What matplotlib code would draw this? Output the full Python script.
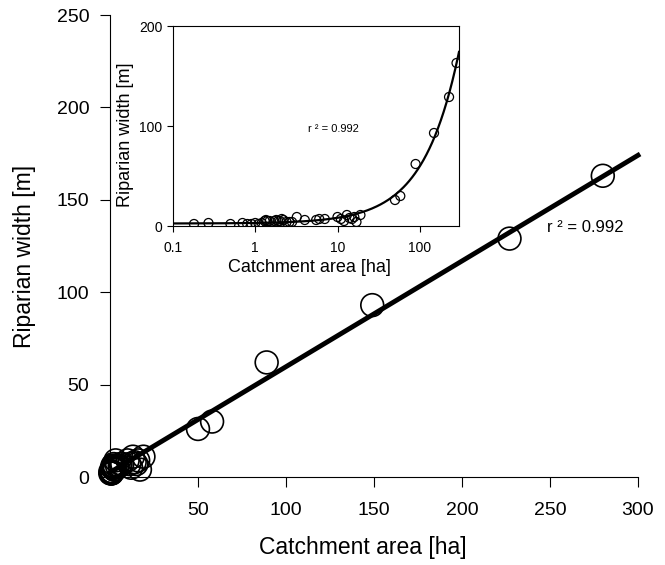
import numpy as np
import matplotlib.pyplot as plt

plt.rcParams['font.family'] = ['Liberation Sans', 'DejaVu Sans']

# catchment area [ha] and riparian width [m]
area = [0.18, 0.27, 0.5, 0.7, 0.8, 0.9, 1.0, 1.1, 1.2, 1.3, 1.35, 1.4, 1.5,
        1.7, 1.8, 1.9, 2.0, 2.1, 2.2, 2.4, 2.6, 2.8, 3.2, 4.0, 5.5, 6.0,
        7.0, 10.0, 11.0, 12.0, 13.0, 14.0, 15.0, 16.0, 17.0, 19.0,
        50.0, 58.0, 89.0, 149.0, 227.0, 280.0]
width = [2, 3, 2, 3, 2, 2, 3, 2, 3, 5, 6, 5, 5,
         5, 6, 5, 5, 7, 6, 4, 4, 4, 9, 6, 6, 7,
         7, 9, 7, 5, 11, 8, 7, 9, 4, 11,
         26, 30, 62, 93, 129, 163]
r2_label = "r ² = 0.992"

area = np.array(area)
width = np.array(width)
b, a = np.polyfit(area, width, 1)

fig = plt.figure(figsize=(6.65, 5.65), dpi=100)
ax = fig.add_axes([110 / 665, 88 / 565, 528 / 665, 462 / 565])

ax.scatter(area, width, s=270, facecolors='none', edgecolors='black',
           linewidths=1.2, zorder=3, clip_on=False)
xs = np.linspace(0, 300, 200)
ax.plot(xs, a + b * xs, color='black', lw=3.5, zorder=2, clip_on=False)
ax.set_xlim(0, 300)
ax.set_ylim(0, 250)
ax.set_xticks([50, 100, 150, 200, 250, 300])
ax.set_yticks([0, 50, 100, 150, 200, 250])
ax.spines['top'].set_visible(False)
ax.spines['right'].set_visible(False)
ax.tick_params(direction='out', length=7, labelsize=14)
ax.tick_params(axis='x', pad=11)
ax.tick_params(axis='y', pad=8)
ax.set_xlabel("Catchment area [ha]", fontsize=16.5)
ax.set_ylabel("Riparian width [m]", fontsize=16.5)
ax.xaxis.set_label_coords(0.479, -0.128)
ax.yaxis.set_label_coords(-0.140, 0.478)
ax.text(270, 135, r2_label, fontsize=12, ha='center', va='center')

# inset on log axis
ins = fig.add_axes([173 / 665, (565 - 226) / 565, 286 / 665, 200 / 565])
ins.scatter(area, width, s=42, facecolors='none', edgecolors='black', linewidths=0.9, zorder=3)
xl = np.logspace(-1, np.log10(300), 300)
ins.plot(xl, a + b * xl, color='black', lw=1.6, zorder=2)
ins.set_xscale('log')
ins.set_xlim(0.1, 300)
ins.set_ylim(0, 200)
ins.set_xticks([0.1, 1, 10, 100])
ins.set_xticklabels(['0.1', '1', '10', '100'])
ins.minorticks_off()
ins.set_yticks([0, 100, 200])
ins.tick_params(direction='out', length=4, labelsize=10)
ins.tick_params(axis='x', pad=7)
ins.set_xlabel("Catchment area [ha]", fontsize=13)
ins.set_ylabel("Riparian width [m]", fontsize=13)
ins.xaxis.set_label_coords(0.476, -0.165)
ins.yaxis.set_label_coords(-0.135, 0.455)
ins.text(0.56, 0.485, r2_label, transform=ins.transAxes, fontsize=8, ha='center', va='center')

fig.savefig("out.png", dpi=100)
